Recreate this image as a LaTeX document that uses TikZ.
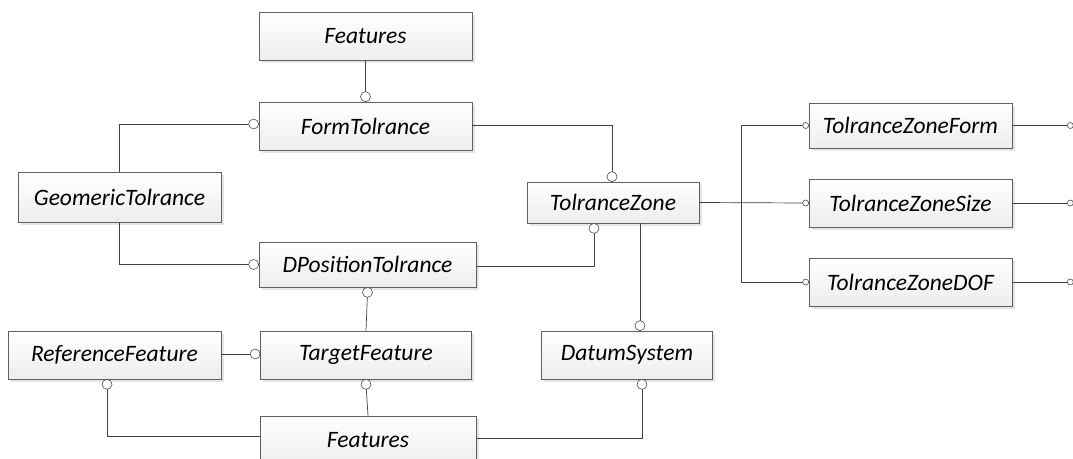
\documentclass[tikz,border=0pt]{standalone}
\usepackage{fontspec}
\setmainfont{Carlito}
\usetikzlibrary{shadows,calc}
\begin{document}
\begin{tikzpicture}[x=1pt,y=-1pt,
  ent/.style={draw=gray!75!black, line width=0.7pt, top color=white, bottom color=gray!14,
    inner sep=0pt, font=\fontsize{23.5}{23.5}\selectfont\itshape,
    drop shadow={shadow xshift=2.5pt, shadow yshift=-2.5pt, fill=gray!40, opacity=0.5}},
  conn/.style={draw=black!75, line width=0.7pt},
  dotb/.style={circle, draw=black!70, fill=white, line width=0.6pt, minimum size=10pt, inner sep=0pt},
  dots/.style={circle, draw=black!70, fill=white, line width=0.6pt, minimum size=6pt, inner sep=0pt}]
\useasboundingbox (0,0) rectangle (1073,458);

\node[ent, minimum width=213pt, minimum height=48pt] (feat1) at (365.5,36) {Features};
\node[ent, minimum width=213pt, minimum height=48pt] (form) at (365.5,126) {FormTolrance};
\node[ent, minimum width=203pt, minimum height=50pt] (geo) at (119.5,197) {GeomericTolrance};
\node[ent, minimum width=172pt, minimum height=41pt] (tz) at (613,202.5) {TolranceZone};
\node[ent, minimum width=217pt, minimum height=45pt] (dpos) at (367.5,264.5) {DPositionTolrance};
\node[ent, minimum width=211pt, minimum height=48pt] (target) at (366,355) {TargetFeature};
\node[ent, minimum width=213pt, minimum height=48pt] (ref) at (114.5,355) {ReferenceFeature};
\node[ent, minimum width=171pt, minimum height=48pt] (datum) at (627,355) {DatumSystem};
\node[ent, minimum width=216pt, minimum height=48pt] (feat2) at (368,440) {Features};
\node[ent, minimum width=203pt, minimum height=45pt] (tzf) at (910.5,125.5) {TolranceZoneForm};
\node[ent, minimum width=203pt, minimum height=48pt] (tzs) at (910.5,203) {TolranceZoneSize};
\node[ent, minimum width=203pt, minimum height=48pt] (tzd) at (910.5,282) {TolranceZoneDOF};

\coordinate (busx) at (741,0);
\coordinate (rf) at (1070,125.5);
\coordinate (rs) at (1070,203);
\coordinate (rd) at (1070,282);

% left / middle connectors
\draw[conn] (feat1.south) -- ([yshift=5pt]form.north) node[dotb]{};
\draw[conn] (geo.north) |- ([xshift=-5pt,yshift=2pt]form.west) node[dotb]{};
\draw[conn] (geo.south) |- ([xshift=-5pt]dpos.west) node[dotb]{};
\draw[conn] ([yshift=1pt]form.east) -| ([xshift=-1pt,yshift=5pt]tz.north) node[dotb]{};
\draw[conn] ([yshift=-1.5pt]dpos.east) -| ([xshift=-19pt,yshift=-5pt]tz.south) node[dotb]{};
\draw[conn] (target.north) -- ([yshift=-5pt]dpos.south) node[dotb]{};
\draw[conn] ([yshift=1pt]ref.east) -- ([xshift=-5pt,yshift=1pt]target.west) node[dotb]{};
\draw[conn] (feat2.north) -- ([yshift=-5pt]target.south) node[dotb]{};
\draw[conn] ([yshift=4pt]feat2.west) -| ([xshift=-7.5pt,yshift=-5pt]ref.south) node[dotb]{};
\draw[conn] ([yshift=2pt]feat2.east) -| ([xshift=15pt,yshift=-5pt]datum.south) node[dotb]{};
\draw[conn] ([xshift=27pt]tz.south) -- ([xshift=13pt,yshift=5pt]datum.north) node[dotb]{};

% right connectors
\draw[conn] (tz.east) -- ([xshift=-3pt]tzs.west) node[dots]{};
\draw[conn] (busx |- tzf.west) -- (busx |- tzd.west);
\draw[conn] (busx |- tzf.west) -- ([xshift=-3pt]tzf.west) node[dots]{};
\draw[conn] (busx |- tzd.west) -- ([xshift=-3pt]tzd.west) node[dots]{};
\draw[conn] (tzf.east) -- ([xshift=-3pt]rf) node[dots, anchor=west]{};
\draw[conn] (tzs.east) -- ([xshift=-3pt]rs) node[dots, anchor=west]{};
\draw[conn] (tzd.east) -- ([xshift=-3pt]rd) node[dots, anchor=west]{};
\end{tikzpicture}
\end{document}
